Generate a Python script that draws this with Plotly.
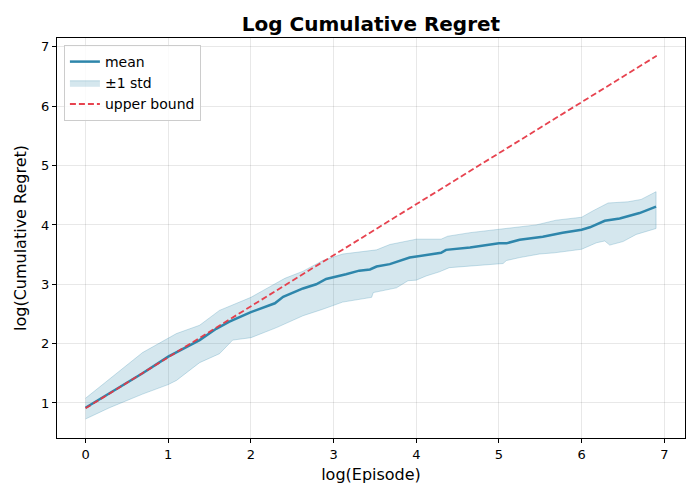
import plotly.graph_objects as go

# Mean curve (log episode, log cumulative regret)
mean_x = [0.0, 0.29, 0.69, 1.0, 1.38, 1.58, 1.74, 2.0, 2.29, 2.39, 2.63, 2.79, 2.91, 3.15, 3.31, 3.44,
          3.52, 3.68, 3.92, 4.30, 4.36, 4.65, 5.0, 5.09, 5.25, 5.53, 5.77, 6.0, 6.10, 6.28, 6.46, 6.70, 6.90]
mean_y = [0.92, 1.16, 1.50, 1.78, 2.06, 2.25, 2.37, 2.53, 2.68, 2.79, 2.93, 3.00, 3.09, 3.17, 3.23, 3.25,
          3.30, 3.34, 3.45, 3.53, 3.58, 3.62, 3.69, 3.69, 3.75, 3.80, 3.87, 3.92, 3.96, 4.07, 4.11, 4.20, 4.31]

# Upper edge of ±1 std band
upper_x = [0.0, 0.69, 1.10, 1.38, 1.62, 2.0, 2.23, 2.41, 2.63, 2.87, 3.11, 3.31, 3.52, 3.68, 4.0,
           4.30, 4.38, 4.65, 5.0, 5.45, 5.69, 6.0, 6.14, 6.32, 6.56, 6.72, 6.90]
upper_y = [1.08, 1.85, 2.17, 2.31, 2.56, 2.78, 2.96, 3.10, 3.22, 3.40, 3.51, 3.54, 3.58, 3.67, 3.76,
           3.76, 3.81, 3.87, 3.93, 4.00, 4.08, 4.13, 4.24, 4.37, 4.39, 4.43, 4.56]

# Lower edge of ±1 std band
lower_x = [0.0, 0.29, 0.69, 1.0, 1.10, 1.38, 1.62, 1.78, 2.0, 2.31, 2.63, 2.87, 3.11, 3.46, 3.48, 3.52,
           3.76, 3.90, 4.0, 4.12, 4.28, 4.40, 4.65, 5.05, 5.09, 5.25, 5.49, 5.67, 6.0, 6.18, 6.28, 6.34,
           6.5, 6.66, 6.90]
lower_y = [0.73, 0.92, 1.15, 1.31, 1.38, 1.68, 1.83, 2.06, 2.10, 2.27, 2.47, 2.58, 2.70, 2.78, 2.86, 2.87,
           2.94, 3.06, 3.07, 3.14, 3.21, 3.28, 3.31, 3.35, 3.40, 3.45, 3.51, 3.53, 3.59, 3.70, 3.73, 3.66,
           3.72, 3.84, 3.94]

# Upper bound (straight dashed line)
bound_x = [0.0, 2.0, 4.0, 6.908]
bound_y = [0.91, 2.63, 4.35, 6.85]

MEAN_COLOR = "#2E86AB"
BAND_FILL = "rgba(46,134,171,0.2)"
BOUND_COLOR = "#E63946"
FONT = "DejaVu Sans"

fig = go.Figure()

fig.add_trace(go.Scatter(
    x=upper_x + lower_x[::-1], y=upper_y + lower_y[::-1],
    fill="toself", fillcolor=BAND_FILL, mode="lines",
    line=dict(color="rgba(46,134,171,0.25)", width=1),
    name="±1 std", legendrank=2, hoverinfo="skip"))

fig.add_trace(go.Scatter(
    x=mean_x, y=mean_y, mode="lines",
    line=dict(color=MEAN_COLOR, width=2.5),
    name="mean", legendrank=1))

fig.add_trace(go.Scatter(
    x=bound_x, y=bound_y, mode="lines",
    line=dict(color=BOUND_COLOR, width=1.8, dash="6px,3px"),
    opacity=0.95,
    name="upper bound", legendrank=3))

axis_common = dict(
    showline=True, linecolor="black", linewidth=1, mirror=True,
    ticks="outside", ticklen=4, tickcolor="black", tickwidth=1,
    showgrid=True, gridcolor="rgba(0,0,0,0.09)", gridwidth=1,
    zeroline=False, tickfont=dict(family=FONT, size=13, color="black"),
    dtick=1,
)

fig.update_layout(
    width=700, height=500,
    margin=dict(l=57, r=15, t=38, b=62),
    paper_bgcolor="white", plot_bgcolor="white",
    font=dict(family=FONT, color="black"),
    title=dict(text="<b>Log Cumulative Regret</b>", x=0.5, xref="paper",
               y=0.952, yref="container", yanchor="middle",
               font=dict(family=FONT, size=20, color="black")),
    xaxis=dict(range=[-0.345, 7.25], tick0=0,
               title=dict(text="log(Episode)", font=dict(family=FONT, size=16), standoff=8),
               **axis_common),
    yaxis=dict(range=[0.41, 7.15], tick0=1,
               title=dict(text="log(Cumulative Regret)", font=dict(family=FONT, size=16), standoff=10),
               **axis_common),
    legend=dict(x=0.011, y=0.9825, xanchor="left", yanchor="top",
                bgcolor="rgba(255,255,255,0.8)", bordercolor="#cccccc", borderwidth=1,
                font=dict(family=FONT, size=14, color="black"), tracegroupgap=0),
    showlegend=True,
)

fig.write_html("out.html")
